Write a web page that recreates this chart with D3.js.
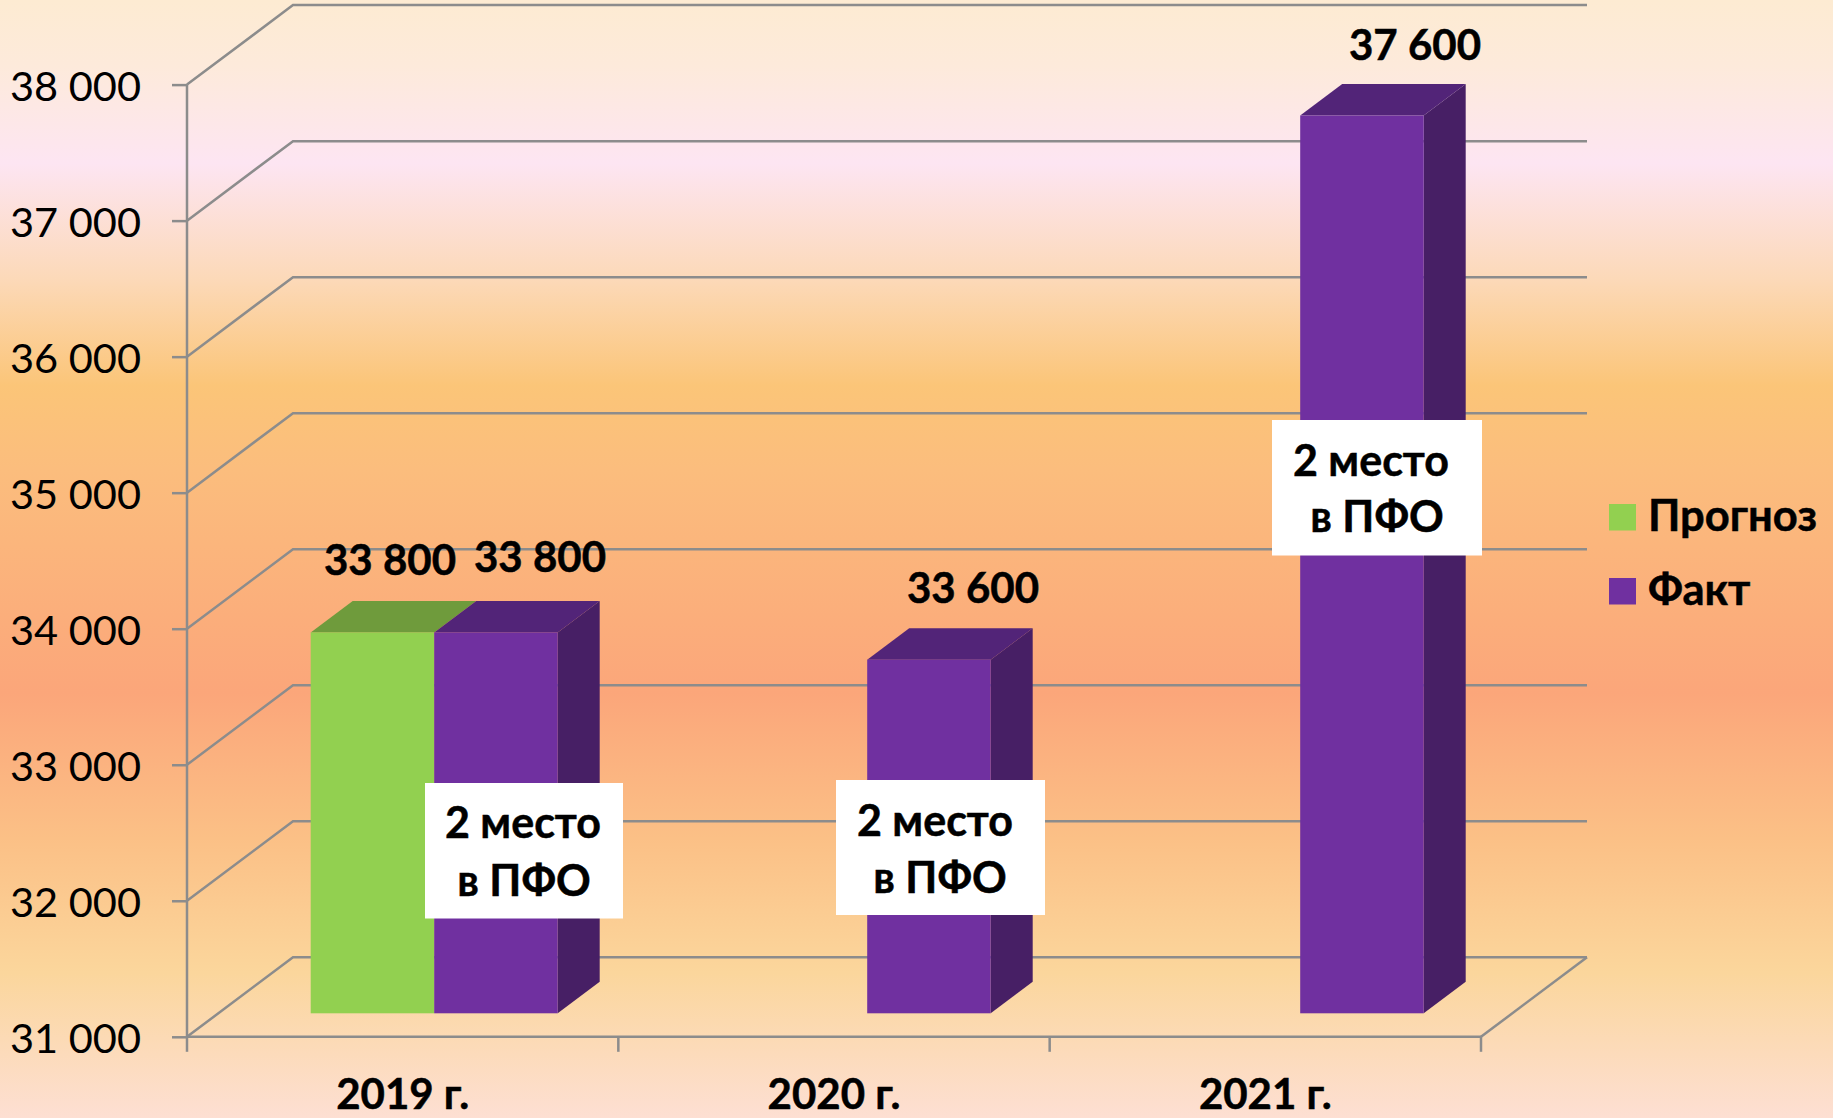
<!DOCTYPE html>
<html><head><meta charset="utf-8">
<script src="https://cdn.jsdelivr.net/npm/d3@7"></script>
<style>html,body{margin:0;padding:0;overflow:hidden;background:#fff}svg{display:block}text{font-family:Lato,"Open Sans","Noto Sans",sans-serif;fill:#000}.b{font-weight:700;stroke:#000;stroke-width:.5px}</style>
</head><body><svg id="c" width="1833" height="1118"></svg>
<script>
const categories = ["2019 г.", "2020 г.", "2021 г."];
const seriesNames = ["Прогноз", "Факт"];
const forecast = [33800, null, null];
const actual = [33800, 33600, 37600];
const yTicks = [31000, 32000, 33000, 34000, 35000, 36000, 37000, 38000];
const rankLines = ["2 место", "в ПФО"];

const W = 1833, H = 1118;
const svg = d3.select("#c");
const defs = svg.append("defs");
const bgStops = [[0,"#fdebd2"],[0.06,"#fdeadb"],[0.146,"#fde5f2"],[0.25,"#fcd9b8"],[0.345,"#fbc578"],[0.42,"#fbbd7d"],[0.62,"#fba67a"],[0.75,"#fbc086"],[0.87,"#fbd69c"],[1,"#fddfd3"]];
const bg = defs.append("linearGradient").attr("id","bg").attr("x1",0).attr("y1",0).attr("x2",0).attr("y2",1);
bgStops.forEach(s => bg.append("stop").attr("offset",s[0]).attr("stop-color",s[1]));
svg.append("rect").attr("width",W).attr("height",H).attr("fill","url(#bg)");

const x0 = 187, x1 = 1481, yBase = 1036.8, yTop = 84.6;
const depthX = 106, depthY = 79.5;         // wall depth
const barOffY = 23.5;                      // bar front above the front plane
const barDX = 42, barDY = 31.5;            // bar depth
const y = d3.scaleLinear().domain([31000, 38000]).range([yBase, yTop]);
const xBand = d3.scaleBand().domain(categories).range([x0, x1]);
const barStart = d3.scalePoint().domain(categories).range([310.7, 1176.7]);
const barW = 123.5;
const fmt = v => d3.format(",")(v).replace(",", " ");
const gridC = "#8c8c8c", gridW = 2.5;

// walls and gridlines
const grid = svg.append("g").attr("fill","none").attr("stroke",gridC).attr("stroke-width",gridW);
yTicks.forEach(t => {
  grid.append("polyline").attr("points",[[x0,y(t)],[x0+depthX,y(t)-depthY],[x1+depthX,y(t)-depthY]].map(p=>p.join(",")).join(" "));
});
grid.append("line").attr("x1",x1).attr("y1",yBase).attr("x2",x1+depthX).attr("y2",yBase-depthY);

// axes
const axisL = svg.append("g").attr("transform",`translate(${x0},0)`)
  .call(d3.axisLeft(y).tickValues(yTicks).tickFormat(fmt).tickSize(15).tickPadding(12));
const xTicksAt = [x0].concat(categories.map(c => xBand(c)+xBand.bandwidth()));
const axisB = svg.append("g").attr("transform",`translate(0,${yBase})`)
  .call(d3.axisBottom(xBand).tickSize(0));
axisB.selectAll(".tick text").attr("class","b").attr("font-size",42).attr("dy",null).attr("y",72);
xTicksAt.forEach(px => axisB.append("line").attr("x1",px).attr("x2",px).attr("y1",0).attr("y2",15).attr("stroke",gridC).attr("stroke-width",gridW));
[axisL,axisB].forEach(a => { a.selectAll(".domain").attr("stroke",gridC).attr("stroke-width",gridW); a.selectAll(".tick line").attr("stroke",gridC).attr("stroke-width",gridW); a.attr("font-family",null); });
axisL.selectAll("text").attr("font-size",41.5).attr("dy","0.39em").attr("x",-46);
axisL.selectAll(".domain").attr("d",`M0,${yTop}V${yBase}`);
axisB.selectAll(".domain").attr("d",`M${x0},0H${x1}`);

// bars
const colors = {
  "Прогноз": {front:"#92d050", top:"#6f9b3c", side:"#5f8a30"},
  "Факт": {front:"#7030a0", top:"#522478", side:"#471f65"}
};
function bar(cat, slot, value, c, showSide) {
  const L = barStart(cat) + slot*barW, R = L + barW;
  const T = y(value) - barOffY, B = yBase - barOffY;
  const g = svg.append("g");
  if (showSide) g.append("path").attr("fill",c.side).attr("d",`M${R},${T}L${R+barDX},${T-barDY}V${B-barDY}L${R},${B}Z`);
  g.append("path").attr("fill",c.top).attr("d",`M${L},${T}L${L+barDX},${T-barDY}H${R+barDX}L${R},${T}Z`);
  g.append("rect").attr("x",L).attr("y",T).attr("width",barW).attr("height",B-T).attr("fill",c.front);
}
categories.forEach((cat,i) => {
  if (forecast[i] != null) bar(cat,0,forecast[i],colors["Прогноз"],false);
  if (actual[i] != null) bar(cat,1,actual[i],colors["Факт"],true);
});

// value labels
function vLabel(cx, by, v) {
  svg.append("text").attr("class","b").attr("x",cx).attr("y",by).attr("text-anchor","middle").attr("font-size",42).text(fmt(v));
}
vLabel(390,575,forecast[0]);
vLabel(540,572,actual[0]);
vLabel(973,603,actual[1]);
vLabel(1415,60,actual[2]);

// rank boxes
function box(xa,xb,ya,yb,c1,b1,c2,b2){
  svg.append("rect").attr("x",xa).attr("y",ya).attr("width",xb-xa).attr("height",yb-ya).attr("fill","#fff");
  [[c1,b1,rankLines[0]],[c2,b2,rankLines[1]]].forEach(d =>
    svg.append("text").attr("class","b").attr("x",d[0]).attr("y",d[1]).attr("text-anchor","middle").attr("font-size",43).text(d[2]));
}
box(425,623,783,918.5,523,838,524,896);
box(836,1045,780,915,935,836,940,893);
box(1272,1482,420,555.5,1371,476,1377,532);

// legend
seriesNames.forEach((s,i) => {
  const ty = [504,578][i];
  svg.append("rect").attr("x",1609).attr("y",ty).attr("width",27).attr("height",26.5).attr("fill",colors[s].front);
  svg.append("text").attr("class","b").attr("x",1648).attr("y",ty+27).attr("font-size",43.5).text(s);
});
</script></body></html>
